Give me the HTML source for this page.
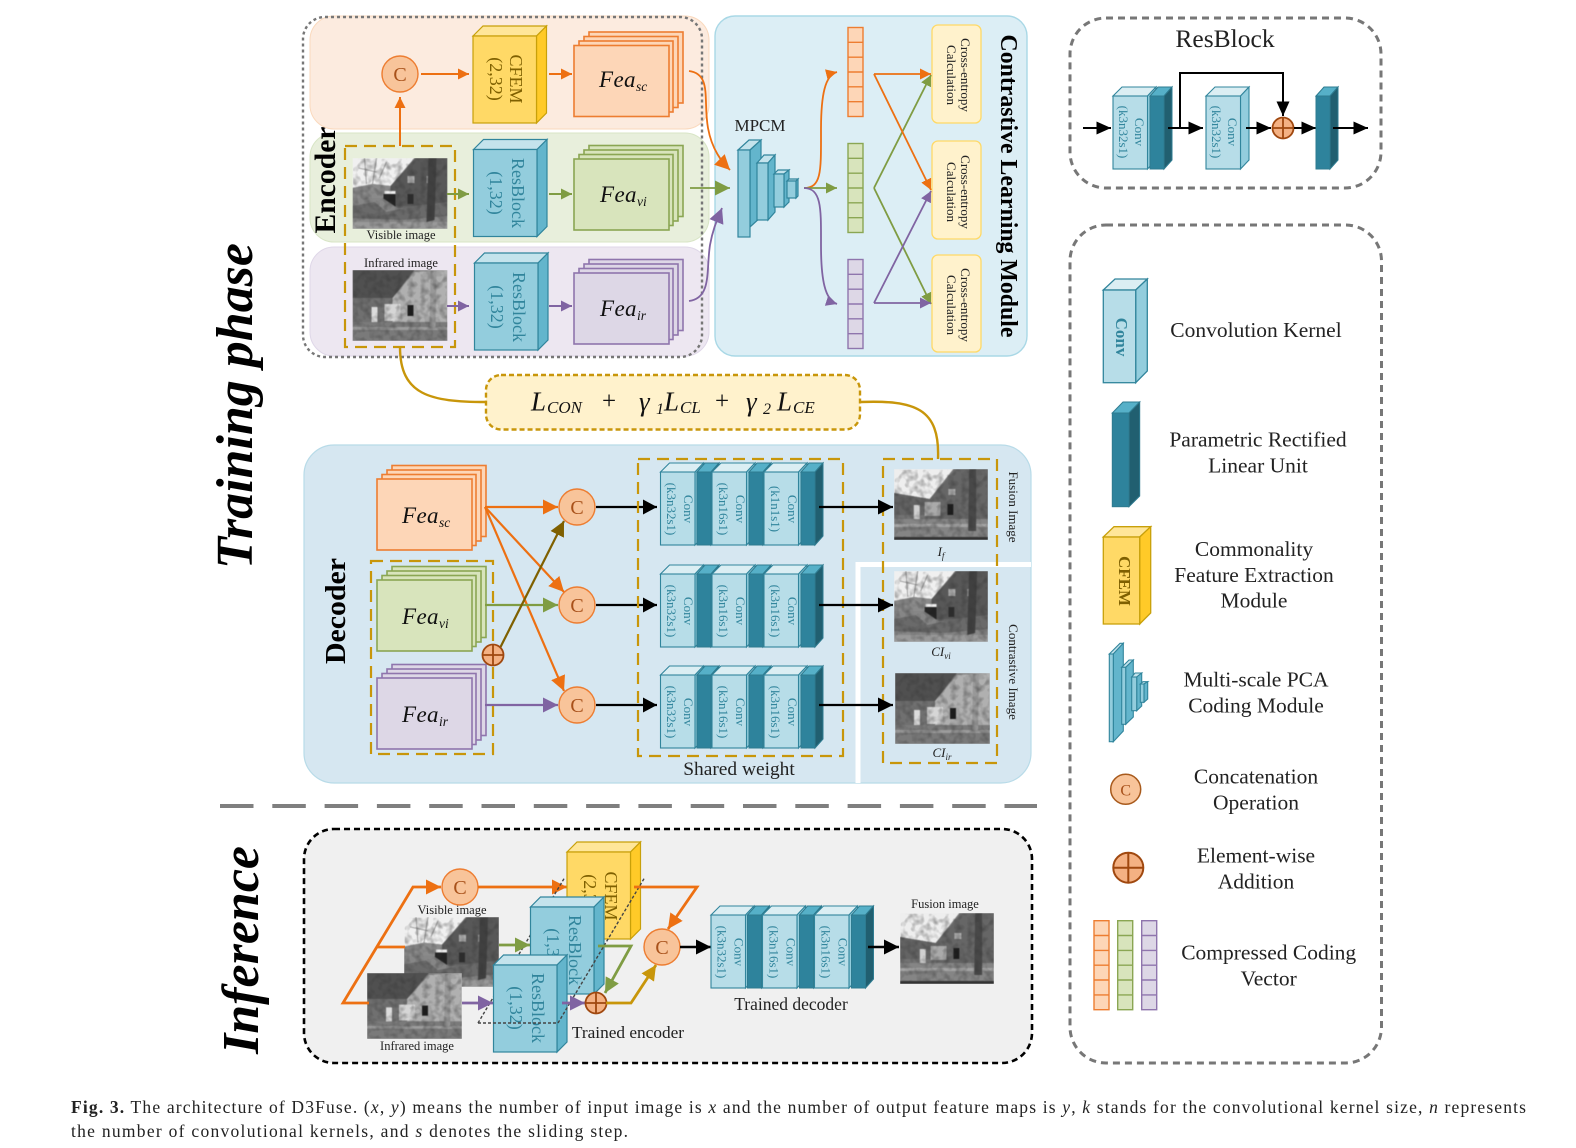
<!DOCTYPE html>
<html lang="en"><head><meta charset="utf-8"><title>D3Fuse architecture</title>
<style>
html,body{margin:0;padding:0;background:#fff}
svg{display:block}
text{font-family:"Liberation Serif",serif}
.r{text-anchor:middle}
.fea{font-style:italic;font-size:23px;letter-spacing:.4px;fill:#111}
.sub{font-size:13.5px;letter-spacing:0}
.cv{font-size:13px;fill:#31859c;text-anchor:middle}
.ce{font-size:13px;fill:#222;text-anchor:middle}
.lg{font-size:21.5px;fill:#222;text-anchor:middle}
.c{font-size:20px;fill:#a8511a;text-anchor:middle}
.f{font-style:italic;font-size:27px;fill:#111}
.fs{font-style:italic;font-size:17px;fill:#111}
</style></head><body>
<svg width="1576" height="1148" viewBox="0 0 1576 1148" xmlns="http://www.w3.org/2000/svg">
<defs>
<filter id="bl" x="0" y="0" width="100%" height="100%" color-interpolation-filters="sRGB">
<feGaussianBlur in="SourceGraphic" stdDeviation="0.6" result="b"/>
<feTurbulence type="fractalNoise" baseFrequency="0.16" numOctaves="2" seed="4" result="n"/>
<feGaussianBlur in="n" stdDeviation="0.5" result="n2"/>
<feColorMatrix in="n2" type="matrix" values="0 0 0 0 .2  0 0 0 0 .2  0 0 0 0 .2  0 0 0 1 -.4" result="m"/>
<feComposite in="m" in2="b" operator="atop"/>
</filter>
<marker id="mo" markerUnits="userSpaceOnUse" markerWidth="12" markerHeight="12" refX="11" refY="6" orient="auto"><path d="M0 .5L11 6L0 11.500z" fill="#ed7012"/></marker>
<marker id="mg" markerUnits="userSpaceOnUse" markerWidth="12" markerHeight="12" refX="11" refY="6" orient="auto"><path d="M0 .5L11 6L0 11.500z" fill="#7f9c43"/></marker>
<marker id="mp" markerUnits="userSpaceOnUse" markerWidth="12" markerHeight="12" refX="11" refY="6" orient="auto"><path d="M0 .5L11 6L0 11.500z" fill="#8064a2"/></marker>
<marker id="moL" markerUnits="userSpaceOnUse" markerWidth="16" markerHeight="16" refX="15" refY="8" orient="auto"><path d="M0 .5L15 8L0 15.500z" fill="#ed7012"/></marker>
<marker id="mgL" markerUnits="userSpaceOnUse" markerWidth="16" markerHeight="16" refX="15" refY="8" orient="auto"><path d="M0 .5L15 8L0 15.500z" fill="#7f9c43"/></marker>
<marker id="mpL" markerUnits="userSpaceOnUse" markerWidth="16" markerHeight="16" refX="15" refY="8" orient="auto"><path d="M0 .5L15 8L0 15.500z" fill="#8064a2"/></marker>
<marker id="mk" markerUnits="userSpaceOnUse" markerWidth="15" markerHeight="13" refX="14.500" refY="6.500" orient="auto"><path d="M0 0L14.500 6.500L0 13z" fill="#000"/></marker>
<marker id="mkL" markerUnits="userSpaceOnUse" markerWidth="16" markerHeight="16" refX="15" refY="8" orient="auto"><path d="M0 .5L15 8L0 15.500z" fill="#000"/></marker>
<marker id="myL" markerUnits="userSpaceOnUse" markerWidth="16" markerHeight="16" refX="15" refY="8" orient="auto"><path d="M0 .5L15 8L0 15.500z" fill="#c8960a"/></marker>
<marker id="mb" markerUnits="userSpaceOnUse" markerWidth="16" markerHeight="16" refX="15" refY="8" orient="auto"><path d="M0 .5L15 8L0 15.500z" fill="#7f6000"/></marker>

<symbol id="vis" viewBox="0 0 95 71" preserveAspectRatio="none"><g filter="url(#bl)">
<rect width="95" height="71" fill="#666"/>
<path d="M0 0H62L38 28L20 26L0 30z" fill="#f0f0f0"/>
<path d="M0 30L20 26L38 28V40H0z" fill="#8a8a8a"/>
<path d="M38 28L64 0H95V48H38z" fill="#585858"/>
<path d="M12 0L14 26M24 0L20 26M34 4L27 20M6 10L24 14" stroke="#888" stroke-width=".8" fill="none"/>
<rect x="55" y="18" width="7" height="7" fill="#b4b4b4"/><rect x="74" y="18" width="5" height="7" fill="#a4a4a4"/>
<rect x="55" y="36" width="6" height="10" fill="#2c2c2c"/>
<rect x="31" y="36" width="12" height="15" fill="#222"/><rect x="32" y="33" width="11" height="3" fill="#eee"/>
<path d="M0 40H30L45 50H95V71H0z" fill="#868686"/>
<path d="M0 48L22 44L34 54L60 48L95 44V58L50 62L0 60z" fill="#6a6a6a"/>
<path d="M76 0L84 0L82 62L74 64z" fill="#404040"/>
<path d="M0 64H95V71H0z" fill="#999"/>
</g></symbol>
<symbol id="ir" viewBox="0 0 95 71" preserveAspectRatio="none"><g filter="url(#bl)">
<rect width="95" height="71" fill="#848484"/>
<path d="M0 0H62L40 28L0 30z" fill="#505050"/>
<path d="M40 28L62 2L95 0V52H40z" fill="#b0b0b0"/>
<path d="M0 28H40V52H0z" fill="#707070"/>
<rect x="32" y="34" width="16" height="17" fill="#d6d6d6"/>
<rect x="55" y="35" width="6" height="11" fill="#1c1c1c"/>
<rect x="19" y="37" width="6" height="18" fill="#dcdcdc"/>
<path d="M0 52H95V71H0z" fill="#7a7a7a"/>
<path d="M0 57H95V60H0z" fill="#9c9c9c"/>
<path d="M78 0L84 0L83 60L77 60z" fill="#989898"/>
</g></symbol>
<symbol id="fus" viewBox="0 0 95 71" preserveAspectRatio="none"><g filter="url(#bl)">
<rect width="95" height="71" fill="#727272"/>
<path d="M0 0H60L36 30L0 24z" fill="#eee"/>
<path d="M36 30L63 0H95V50H36z" fill="#666"/>
<path d="M0 24L36 30V46H0z" fill="#646464"/>
<rect x="55" y="20" width="7" height="6" fill="#b4b4b4"/>
<rect x="54" y="35" width="6" height="11" fill="#1c1c1c"/>
<rect x="31" y="33" width="16" height="14" fill="#aaa"/>
<rect x="20" y="36" width="6" height="18" fill="#d0d0d0"/>
<path d="M0 50H95V71H0z" fill="#858585"/>
<path d="M0 55H95V58H0z" fill="#a4a4a4"/>
<path d="M76 0L83 0L83 62L75 62z" fill="#484848"/>
<path d="M0 68H95V71H0z" fill="#333"/>
</g></symbol>

<g id="stack" stroke-width="1.6"><rect x="15" y="-13.5" width="94" height="71"/><rect x="10" y="-9" width="94" height="71"/><rect x="5" y="-4.5" width="94" height="71"/><rect width="95" height="71"/></g>

<g id="rb" stroke="#31859c" stroke-width="1.2"><path d="M0 0L10 -10H73.5L63.5 0z" fill="#c4e3ec"/><path d="M63.5 0L73.5 -10V77L63.5 87z" fill="#63b5cc"/><rect width="63.5" height="87" fill="#93cddd"/></g>
<g id="cf" stroke="#c8a00a" stroke-width="1.2"><path d="M0 0L10 -10H73.5L63.5 0z" fill="#ffe699"/><path d="M63.5 0L73.5 -10V77L63.5 87z" fill="#ffca28"/><rect width="63.5" height="87" fill="#ffd966"/></g>

<g id="lt" stroke="#31859c" stroke-width="1.1"><path d="M0 0L9 -9H43L34.500 0z" fill="#dbeef3"/><path d="M34.500 0L43 -9V64L34.500 73z" fill="#93cddd"/><rect width="34.500" height="73" fill="#b7dde8"/></g>
<g id="dk" stroke="#2e7b90" stroke-width="1"><path d="M0 0L8 -9H22L14 0z" fill="#56b0c8"/><path d="M14 0L22 -9V64L14 73z" fill="#215f70"/><rect width="14" height="73" fill="#2e839c"/></g>
<g id="row"><use href="#lt"/><use href="#dk" x="36.500"/><use href="#lt" x="51.500"/><use href="#dk" x="88.500"/><use href="#lt" x="103.500"/><use href="#dk" x="140.500"/></g>

<g id="vec" stroke-width="1.4"><rect width="15" height="89"/><path d="M0 14.800H15M0 29.700H15M0 44.500H15M0 59.300H15M0 74.200H15" fill="none"/></g>

<g id="mpcm" stroke="#31859c" stroke-width="1.2">
<path d="M0 10L11 0H23L12 10z" fill="#c4e3ec"/><path d="M12 10L23 0V77L12 87z" fill="#63b5cc"/><rect y="10" width="12" height="87" fill="#93cddd"/>
<path d="M19 23L26 15H37L30 23z" fill="#c4e3ec"/><path d="M30 23L37 15V72L30 80z" fill="#63b5cc"/><rect x="19" y="23" width="11" height="57" fill="#93cddd"/>
<path d="M36 34L40 30H51L46 34z" fill="#c4e3ec"/><path d="M46 34L51 30V62L46 67z" fill="#63b5cc"/><rect x="36" y="34" width="10" height="33" fill="#93cddd"/>
<path d="M49 41L51 39H60L58 41z" fill="#c4e3ec"/><path d="M58 41L60 39V56L58 58z" fill="#63b5cc"/><rect x="49" y="41" width="9" height="17" fill="#93cddd"/>
</g>

<g id="cc"><circle r="18" fill="#f8c49a" stroke="#ed7d31" stroke-width="1.4"/></g>
<g id="pl"><circle r="10.500" fill="#f4b183" stroke="#a0480f" stroke-width="1.800"/><path d="M-10.500 0H10.500M0 -10.500V10.500" stroke="#a0480f" stroke-width="1.800"/></g>
</defs>

<rect width="1576" height="1148" fill="#fff"/>

<!-- Side titles -->
<text transform="translate(252,406) rotate(-90)" class="r" font-size="52" font-weight="bold" font-style="italic" textLength="326" lengthAdjust="spacingAndGlyphs" fill="#000">Training phase</text>
<text transform="translate(258,950) rotate(-90)" class="r" font-size="52" font-weight="bold" font-style="italic" textLength="208" lengthAdjust="spacingAndGlyphs" fill="#000">Inference</text>

<!-- Encoder panels -->
<rect x="310" y="133" width="399" height="109" rx="24" fill="#e8efdc" stroke="#d8e5c6"/>
<rect x="310" y="247" width="399" height="109" rx="24" fill="#ede7f1" stroke="#dfd7e8"/>
<text transform="translate(335,180) rotate(-90)" class="r" font-size="30" font-weight="bold" textLength="107" lengthAdjust="spacingAndGlyphs" fill="#000">Encoder</text>
<rect x="310" y="16" width="399" height="113" rx="24" fill="#fcebdf" stroke="#fad9bd"/>
<rect x="303" y="17" width="399" height="340" rx="22" fill="none" stroke="#777" stroke-width="2.400" stroke-dasharray="3 3"/>

<!-- CLM panel -->
<rect x="715" y="16" width="312" height="340" rx="20" fill="#dceef5" stroke="#a9d8e6" stroke-width="1.400"/>

<!-- Encoder contents -->
<use href="#vis" x="352.500" y="158" width="95" height="71"/>
<use href="#ir" x="352.500" y="270" width="95" height="71"/>
<rect x="345" y="146" width="110" height="201" fill="none" stroke="#c8960a" stroke-width="2.200" stroke-dasharray="12 7"/>
<text x="401" y="239" class="r" font-size="12.500" fill="#222">Visible image</text>
<text x="401" y="267" class="r" font-size="12.500" fill="#222">Infrared image</text>

<use href="#cc" x="400" y="74"/><text x="400" y="81" class="c">C</text>
<path d="M400 146V97" stroke="#ed7012" stroke-width="2" fill="none" marker-end="url(#mo)"/>
<path d="M421 74H469" stroke="#ed7012" stroke-width="2" fill="none" marker-end="url(#mo)"/>
<use href="#cf" x="473" y="36"/>
<text transform="translate(510,79) rotate(90)" class="r" font-size="18" fill="#7f6000">CFEM</text>
<text transform="translate(490,79) rotate(90)" class="r" font-size="18" fill="#7f6000">(2,32)</text>
<path d="M549 74H572" stroke="#ed7012" stroke-width="2" fill="none" marker-end="url(#mo)"/>
<use href="#stack" x="574" y="45.500" fill="#fdd6b7" stroke="#ed7d31"/>
<text x="599" y="87" class="fea">Fea<tspan class="sub" dy="4">sc</tspan></text>

<path d="M447 194H469" stroke="#7f9c43" stroke-width="2" fill="none" marker-end="url(#mg)"/>
<use href="#rb" x="473.500" y="149.500"/>
<text transform="translate(512,193) rotate(90)" class="r" font-size="18" fill="#31859c">ResBlock</text>
<text transform="translate(490,193) rotate(90)" class="r" font-size="18" fill="#31859c">(1,32)</text>
<path d="M549 194H572" stroke="#7f9c43" stroke-width="2" fill="none" marker-end="url(#mg)"/>
<use href="#stack" x="574" y="159" fill="#d8e4bc" stroke="#8aa653"/>
<text x="600" y="202" class="fea">Fea<tspan class="sub" dy="4">vi</tspan></text>

<path d="M447 306H469" stroke="#8064a2" stroke-width="2" fill="none" marker-end="url(#mp)"/>
<use href="#rb" x="474.500" y="263"/>
<text transform="translate(513,307) rotate(90)" class="r" font-size="18" fill="#31859c">ResBlock</text>
<text transform="translate(491,307) rotate(90)" class="r" font-size="18" fill="#31859c">(1,32)</text>
<path d="M549 306H572" stroke="#8064a2" stroke-width="2" fill="none" marker-end="url(#mp)"/>
<use href="#stack" x="574" y="273" fill="#ddd7e6" stroke="#8f75ad"/>
<text x="600" y="316" class="fea">Fea<tspan class="sub" dy="4">ir</tspan></text>

<!-- to MPCM -->
<path d="M689 71C712 74 703 100 708 128C712 150 722 162 730 170" stroke="#ed7012" stroke-width="1.800" fill="none" marker-end="url(#moL)"/>
<path d="M690 188H730" stroke="#7f9c43" stroke-width="1.800" fill="none" marker-end="url(#mgL)"/>
<path d="M689 301C712 298 706 270 710 245C713 228 718 218 722 208" stroke="#8064a2" stroke-width="1.800" fill="none" marker-end="url(#mpL)"/>
<text x="760" y="131" class="r" font-size="17" fill="#222">MPCM</text>
<use href="#mpcm" x="738" y="140"/>

<path d="M804 188C822 188 821 170 821 130C821 95 825 75 837 72" stroke="#ed7012" stroke-width="1.800" fill="none" marker-end="url(#mo)"/>
<path d="M804 188H837" stroke="#7f9c43" stroke-width="1.800" fill="none" marker-end="url(#mg)"/>
<path d="M804 188C822 188 821 210 821 245C821 280 825 300 837 304" stroke="#8064a2" stroke-width="1.800" fill="none" marker-end="url(#mp)"/>

<use href="#vec" x="848" y="27.500" fill="#fdd6b7" stroke="#ed7d31"/>
<use href="#vec" x="848" y="143.500" fill="#d8e4bc" stroke="#8aa653"/>
<use href="#vec" x="848" y="259.500" fill="#ddd7e6" stroke="#8f75ad"/>

<rect x="932" y="25" width="49" height="98" rx="6" fill="#fff2cc" stroke="#ffd966" stroke-width="1.300"/>
<rect x="932" y="141" width="49" height="98" rx="6" fill="#fff2cc" stroke="#ffd966" stroke-width="1.300"/>
<rect x="932" y="255" width="49" height="97" rx="6" fill="#fff2cc" stroke="#ffd966" stroke-width="1.300"/>
<text transform="translate(961,75) rotate(90)" class="ce">Cross-entropy</text><text transform="translate(947,75) rotate(90)" class="ce">Calculation</text>
<text transform="translate(961,192) rotate(90)" class="ce">Cross-entropy</text><text transform="translate(947,192) rotate(90)" class="ce">Calculation</text>
<text transform="translate(961,305) rotate(90)" class="ce">Cross-entropy</text><text transform="translate(947,305) rotate(90)" class="ce">Calculation</text>

<path d="M874 188L931 304" stroke="#7f9c43" stroke-width="1.800" fill="none" marker-end="url(#mg)"/>
<path d="M874 188L931 75" stroke="#7f9c43" stroke-width="1.800" fill="none" marker-end="url(#mg)"/>
<path d="M874 74L931 190" stroke="#ed7012" stroke-width="1.800" fill="none" marker-end="url(#mo)"/>
<path d="M874 74H931" stroke="#ed7012" stroke-width="1.800" fill="none" marker-end="url(#mo)"/>
<path d="M874 303L931 191" stroke="#8064a2" stroke-width="1.800" fill="none" marker-end="url(#mp)"/>
<path d="M874 303H931" stroke="#8064a2" stroke-width="1.800" fill="none" marker-end="url(#mp)"/>
<text transform="translate(1001,186) rotate(90)" class="r" font-size="24" font-weight="bold" textLength="303" lengthAdjust="spacingAndGlyphs" fill="#000">Contrastive Learning Module</text>

<!-- Decoder panel -->
<rect x="304" y="445" width="727" height="338" rx="30" fill="#d6e7f1" stroke="#b8dbe8" stroke-width="1.200"/>
<path d="M858 783V564.500H1031" stroke="#fff" stroke-width="5" fill="none"/>
<text transform="translate(345,611) rotate(-90)" class="r" font-size="28" font-weight="bold" textLength="106" lengthAdjust="spacingAndGlyphs" fill="#000">Decoder</text>

<!-- Gold formula -->
<path d="M400 347C400 395 430 402 486 402" stroke="#c8960a" stroke-width="2.400" fill="none"/>
<path d="M860 402C915 400 940 408 938 459" stroke="#c8960a" stroke-width="2.400" fill="none"/>
<rect x="486" y="375" width="374" height="54.500" rx="15" fill="#fff2cc" stroke="#c8960a" stroke-width="2.400" stroke-dasharray="5 3"/>
<text y="410.500"><tspan x="531" class="f">L</tspan></text><text x="547" y="413" class="fs">CON</text>
<text x="602" y="409" font-size="25" fill="#111">+</text>
<text x="639" y="410.500" class="f">γ</text><text x="656" y="414" font-size="16" font-style="italic" fill="#111">1</text>
<text x="664" y="410.500" class="f">L</text><text x="680" y="413" class="fs">CL</text>
<text x="715" y="409" font-size="25" fill="#111">+</text>
<text x="746" y="410.500" class="f">γ</text><text x="763" y="414" font-size="16" font-style="italic" fill="#111">2</text>
<text x="777" y="410.500" class="f">L</text><text x="793" y="413" class="fs">CE</text>

<!-- Decoder features -->
<use href="#stack" x="377" y="479" fill="#fdd6b7" stroke="#ed7d31"/>
<text x="402" y="523" class="fea">Fea<tspan class="sub" dy="4">sc</tspan></text>
<rect x="371" y="561" width="122" height="193" fill="none" stroke="#c8960a" stroke-width="2.200" stroke-dasharray="12 7"/>
<use href="#stack" x="377" y="580" fill="#d8e4bc" stroke="#8aa653"/>
<text x="402" y="624" class="fea">Fea<tspan class="sub" dy="4">vi</tspan></text>
<use href="#stack" x="377" y="678" fill="#ddd7e6" stroke="#8f75ad"/>
<text x="402" y="722" class="fea">Fea<tspan class="sub" dy="4">ir</tspan></text>

<path d="M485 507H558" stroke="#ed7012" stroke-width="2.200" fill="none" marker-end="url(#moL)"/>
<path d="M485 507L564 592" stroke="#ed7012" stroke-width="2.200" fill="none" marker-end="url(#moL)"/>
<path d="M485 507L564 691" stroke="#ed7012" stroke-width="2.200" fill="none" marker-end="url(#moL)"/>
<path d="M485 605H558" stroke="#7f9c43" stroke-width="2.200" fill="none" marker-end="url(#mgL)"/>
<path d="M485 705H558" stroke="#8064a2" stroke-width="2.200" fill="none" marker-end="url(#mpL)"/>
<path d="M500 648L564 521" stroke="#7f6000" stroke-width="2.200" fill="none" marker-end="url(#mb)"/>
<use href="#pl" x="493" y="655"/>
<use href="#cc" x="577" y="507"/><text x="577" y="514" class="c">C</text>
<use href="#cc" x="577" y="605"/><text x="577" y="612" class="c">C</text>
<use href="#cc" x="577" y="705"/><text x="577" y="712" class="c">C</text>

<path d="M596 507H657M596 605H657M596 705H657" stroke="#000" stroke-width="2.200" fill="none"/>
<rect x="638" y="459" width="205" height="297" fill="none" stroke="#c8960a" stroke-width="2.200" stroke-dasharray="12 7"/>
<path d="M643 499.500L657 507L643 514.500zM643 597.500L657 605L643 612.500zM643 697.500L657 705L643 712.500z" fill="#000"/>

<use href="#row" x="660.500" y="472"/>
<use href="#row" x="660.500" y="574"/>
<use href="#row" x="660.500" y="675"/>
<g>
<text transform="translate(684,509) rotate(90)" class="cv">Conv</text><text transform="translate(667,509) rotate(90)" class="cv">(k3n32s1)</text>
<text transform="translate(736,509) rotate(90)" class="cv">Conv</text><text transform="translate(719,509) rotate(90)" class="cv">(k3n16s1)</text>
<text transform="translate(788,509) rotate(90)" class="cv">Conv</text><text transform="translate(771,509) rotate(90)" class="cv">(k1n1s1)</text>
<text transform="translate(684,611) rotate(90)" class="cv">Conv</text><text transform="translate(667,611) rotate(90)" class="cv">(k3n32s1)</text>
<text transform="translate(736,611) rotate(90)" class="cv">Conv</text><text transform="translate(719,611) rotate(90)" class="cv">(k3n16s1)</text>
<text transform="translate(788,611) rotate(90)" class="cv">Conv</text><text transform="translate(771,611) rotate(90)" class="cv">(k3n16s1)</text>
<text transform="translate(684,712) rotate(90)" class="cv">Conv</text><text transform="translate(667,712) rotate(90)" class="cv">(k3n32s1)</text>
<text transform="translate(736,712) rotate(90)" class="cv">Conv</text><text transform="translate(719,712) rotate(90)" class="cv">(k3n16s1)</text>
<text transform="translate(788,712) rotate(90)" class="cv">Conv</text><text transform="translate(771,712) rotate(90)" class="cv">(k3n16s1)</text>
</g>
<text x="739" y="775" class="r" font-size="19.400" fill="#222">Shared weight</text>

<rect x="883" y="459" width="114" height="304" fill="none" stroke="#c8960a" stroke-width="2.200" stroke-dasharray="12 7"/>
<use href="#fus" x="894" y="469" width="94" height="71"/>
<use href="#vis" x="894" y="571" width="94" height="71"/>
<use href="#ir" x="895" y="673" width="95" height="71"/>
<path d="M819 507H893M819 605H893M819 705H893" stroke="#000" stroke-width="2.200" fill="none"/>
<path d="M878 499.500L893 507L878 514.500zM878 597.500L893 605L878 612.500zM878 697.500L893 705L878 712.500z" fill="#000"/>
<text x="941" y="556" class="r" font-size="13" font-style="italic" fill="#222">I<tspan font-size="9" dy="3">f</tspan></text>
<text x="941" y="656" class="r" font-size="13" font-style="italic" fill="#222">CI<tspan font-size="9" dy="3">vi</tspan></text>
<text x="942" y="757" class="r" font-size="13" font-style="italic" fill="#222">CI<tspan font-size="9" dy="3">ir</tspan></text>
<text transform="translate(1009,507) rotate(90)" class="r" font-size="13" fill="#222">Fusion Image</text>
<text transform="translate(1009,672) rotate(90)" class="r" font-size="13" fill="#222">Contrastive Image</text>

<!-- Separator -->
<path d="M220 806H1037" stroke="#7f7f7f" stroke-width="4" stroke-dasharray="33.500 18.800"/>

<!-- Inference -->
<rect x="304" y="829" width="728" height="234" rx="30" fill="#f0f0f0" stroke="#000" stroke-width="2.600" stroke-dasharray="6 4"/>
<use href="#vis" x="404" y="917" width="95" height="70"/>
<use href="#ir" x="367" y="973" width="95" height="66"/>
<text x="452" y="914" class="r" font-size="12.500" fill="#222">Visible image</text>
<text x="417" y="1050" class="r" font-size="12.500" fill="#222">Infrared image</text>

<path d="M369 1003H343L413 887H441" stroke="#ed7012" stroke-width="2.800" fill="none" marker-end="url(#moL)"/>
<path d="M377 947H405" stroke="#ed7012" stroke-width="2.800" fill="none"/>
<use href="#cc" x="460" y="887"/><text x="460" y="894" class="c">C</text>
<path d="M478 887H567" stroke="#ed7012" stroke-width="2.800" fill="none" marker-end="url(#moL)"/>
<path d="M478 1023L565 877" stroke="#444" stroke-width="1.400" stroke-dasharray="3 2" fill="none"/>
<use href="#cf" x="567" y="852"/>
<text transform="translate(605,896) rotate(90)" class="r" font-size="18" fill="#7f6000">CFEM</text>
<text transform="translate(584,896) rotate(90)" class="r" font-size="18" fill="#7f6000">(2,32)</text>
<path d="M499 945H530" stroke="#7f9c43" stroke-width="2.800" fill="none" marker-end="url(#mgL)"/>
<use href="#rb" x="530.500" y="907"/>
<text transform="translate(569,950) rotate(90)" class="r" font-size="18" fill="#31859c">ResBlock</text>
<text transform="translate(547,950) rotate(90)" class="r" font-size="18" fill="#31859c">(1,32)</text>
<path d="M462 1003H493" stroke="#8064a2" stroke-width="2.800" fill="none" marker-end="url(#mpL)"/>
<use href="#rb" x="493.500" y="965"/>
<text transform="translate(532,1008) rotate(90)" class="r" font-size="18" fill="#31859c">ResBlock</text>
<text transform="translate(510,1008) rotate(90)" class="r" font-size="18" fill="#31859c">(1,32)</text>
<path d="M478 1023H558L645 877" stroke="#444" stroke-width="1.400" stroke-dasharray="3 2" fill="none"/>

<path d="M634 887H697L668 929" stroke="#ed7012" stroke-width="2.800" fill="none" marker-end="url(#moL)"/>
<path d="M598 946H631L605 993" stroke="#7f9c43" stroke-width="2.800" fill="none" marker-end="url(#mgL)"/>
<path d="M562 1003H585" stroke="#8064a2" stroke-width="2.800" fill="none" marker-end="url(#mpL)"/>
<use href="#pl" x="596" y="1003"/>
<path d="M606 1003H631L656 965" stroke="#c8960a" stroke-width="2.800" fill="none" marker-end="url(#myL)"/>
<use href="#cc" x="662" y="947"/><text x="662" y="954" class="c">C</text>
<path d="M680 947H711" stroke="#000" stroke-width="2.600" fill="none" marker-end="url(#mkL)"/>
<text x="628" y="1038" class="r" font-size="17.300" fill="#222">Trained encoder</text>

<use href="#row" x="711" y="915"/>
<text transform="translate(734.500,952) rotate(90)" class="cv">Conv</text><text transform="translate(717.500,952) rotate(90)" class="cv">(k3n32s1)</text>
<text transform="translate(786.500,952) rotate(90)" class="cv">Conv</text><text transform="translate(769.500,952) rotate(90)" class="cv">(k3n16s1)</text>
<text transform="translate(838.500,952) rotate(90)" class="cv">Conv</text><text transform="translate(821.500,952) rotate(90)" class="cv">(k3n16s1)</text>
<text x="791" y="1010" class="r" font-size="17.500" fill="#222">Trained decoder</text>
<path d="M868 947H899" stroke="#000" stroke-width="2.600" fill="none" marker-end="url(#mkL)"/>
<use href="#fus" x="900" y="913" width="94" height="71"/>
<text x="945" y="908" class="r" font-size="12.500" fill="#222">Fusion image</text>

<!-- ResBlock panel -->
<rect x="1070" y="18" width="311" height="170" rx="36" fill="none" stroke="#777" stroke-width="3" stroke-dasharray="7 5"/>
<text x="1225" y="47" class="r" font-size="25.500" fill="#222">ResBlock</text>
<path d="M1083 128H1111" stroke="#000" stroke-width="2" fill="none" marker-end="url(#mk)"/>
<use href="#lt" x="1113" y="96"/><use href="#dk" x="1150" y="96"/>
<text transform="translate(1135,132) rotate(90)" class="cv">Conv</text><text transform="translate(1119,132) rotate(90)" class="cv">(k3n32s1)</text>
<path d="M1168 128H1203" stroke="#000" stroke-width="2" fill="none" marker-end="url(#mk)"/>
<path d="M1180 128V73H1283V116" stroke="#000" stroke-width="2" fill="none" marker-end="url(#mk)"/>
<use href="#lt" x="1206" y="96"/>
<text transform="translate(1228,132) rotate(90)" class="cv">Conv</text><text transform="translate(1212,132) rotate(90)" class="cv">(k3n32s1)</text>
<path d="M1246 128H1271" stroke="#000" stroke-width="2" fill="none" marker-end="url(#mk)"/>
<use href="#pl" x="1283" y="128"/>
<path d="M1294 128H1316" stroke="#000" stroke-width="2" fill="none" marker-end="url(#mk)"/>
<use href="#dk" x="1316" y="96"/>
<path d="M1333 128H1368" stroke="#000" stroke-width="2" fill="none" marker-end="url(#mk)"/>

<!-- Legend -->
<rect x="1070" y="225" width="311.500" height="838" rx="36" fill="none" stroke="#777" stroke-width="3" stroke-dasharray="7 5"/>
<g stroke="#31859c" stroke-width="1.300"><path d="M1103.300 290L1115 279H1147.300L1135.700 290z" fill="#dbeef3"/><path d="M1135.700 290L1147.300 279V371L1135.700 382.700z" fill="#93cddd"/><rect x="1103.300" y="290" width="32.400" height="92.700" fill="#b7dde8"/></g>
<text transform="translate(1116,337) rotate(90)" class="r" font-size="17" font-weight="bold" fill="#31859c">Conv</text>
<text x="1256" y="337" class="lg">Convolution Kernel</text>
<g stroke="#2e7b90" stroke-width="1"><path d="M1112.300 413L1123 402H1139.700L1129 413z" fill="#56b0c8"/><path d="M1129 413L1139.700 402V496L1129 506.700z" fill="#215f70"/><rect x="1112.300" y="413" width="16.700" height="93.700" fill="#2e839c"/></g>
<text x="1258" y="446.700" class="lg">Parametric Rectified</text><text x="1258" y="472.700" class="lg">Linear Unit</text>
<g stroke="#c8a00a" stroke-width="1.300"><path d="M1103.300 537L1114 526.700H1150.700L1139.700 537z" fill="#ffe699"/><path d="M1139.700 537L1150.700 526.700V613L1139.700 624z" fill="#ffca28"/><rect x="1103.300" y="537" width="36.400" height="87" fill="#ffd966"/></g>
<text transform="translate(1119,581) rotate(90)" class="r" font-size="17" font-weight="bold" fill="#7f6000">CFEM</text>
<text x="1254" y="556" class="lg">Commonality</text><text x="1254" y="582" class="lg">Feature Extraction</text><text x="1254" y="607.700" class="lg">Module</text>

<g stroke="#31859c" stroke-width="1.100">
<path d="M1109.300 654L1120 643.300H1123.300L1113.300 654z" fill="#c4e3ec"/><path d="M1113.300 654L1123.300 643.300V731L1113.300 741.700z" fill="#63b5cc"/><rect x="1109.300" y="654" width="4" height="87.700" fill="#93cddd"/>
<path d="M1121.700 667.300L1129 660H1133.300L1125.700 667.300z" fill="#c4e3ec"/><path d="M1125.700 667.300L1133.300 660V717L1125.700 724.300z" fill="#63b5cc"/><rect x="1121.700" y="667.300" width="4" height="57" fill="#93cddd"/>
<path d="M1131.700 677L1135 673H1141.700L1136.700 677z" fill="#c4e3ec"/><path d="M1136.700 677L1141.700 673V706L1136.700 710.700z" fill="#63b5cc"/><rect x="1131.700" y="677" width="5" height="33.700" fill="#93cddd"/>
<path d="M1140.300 684L1143 681.700H1147.700L1144 684z" fill="#c4e3ec"/><path d="M1144 684L1147.700 681.700V699L1144 702.300z" fill="#63b5cc"/><rect x="1140.300" y="684" width="3.700" height="18.300" fill="#93cddd"/>
</g>
<text x="1256" y="686.700" class="lg">Multi-scale PCA</text><text x="1256" y="712.700" class="lg">Coding Module</text>

<circle cx="1125.700" cy="789.300" r="15" fill="#f8c49a" stroke="#a85a1c" stroke-width="1.500"/><text x="1125.700" y="795.500" class="r" font-size="16" fill="#a8511a">C</text>
<text x="1256" y="783.300" class="lg">Concatenation</text><text x="1256" y="809.300" class="lg">Operation</text>
<circle cx="1128.300" cy="867.700" r="15" fill="#f4b183" stroke="#a0480f" stroke-width="2"/><path d="M1113.300 867.700H1143.300M1128.300 852.700V882.700" stroke="#a0480f" stroke-width="2"/>
<text x="1256" y="862.700" class="lg">Element-wise</text><text x="1256" y="888.700" class="lg">Addition</text>
<use href="#vec" x="1094" y="920.700" fill="#fdd6b7" stroke="#ed7d31"/>
<use href="#vec" x="1117.700" y="920.700" fill="#d8e4bc" stroke="#8aa653"/>
<use href="#vec" x="1141.700" y="920.700" fill="#ddd7e6" stroke="#8f75ad"/>
<text x="1268.700" y="959.300" class="lg">Compressed Coding</text><text x="1268.700" y="985.300" class="lg">Vector</text>

<!-- Caption -->
<text x="71" y="1113" font-size="17.500" fill="#222" textLength="1455" lengthAdjust="spacing"><tspan font-weight="bold">Fig. 3.</tspan>  The architecture of D3Fuse. (<tspan font-style="italic">x</tspan>, <tspan font-style="italic">y</tspan>) means the number of input image is <tspan font-style="italic">x</tspan> and the number of output feature maps is <tspan font-style="italic">y</tspan>, <tspan font-style="italic">k</tspan> stands for the convolutional kernel size, <tspan font-style="italic">n</tspan> represents</text>
<text x="71" y="1137" font-size="17.500" fill="#222" textLength="557" lengthAdjust="spacing">the number of convolutional kernels, and <tspan font-style="italic">s</tspan> denotes the sliding step.</text>
</svg>
</body></html>
